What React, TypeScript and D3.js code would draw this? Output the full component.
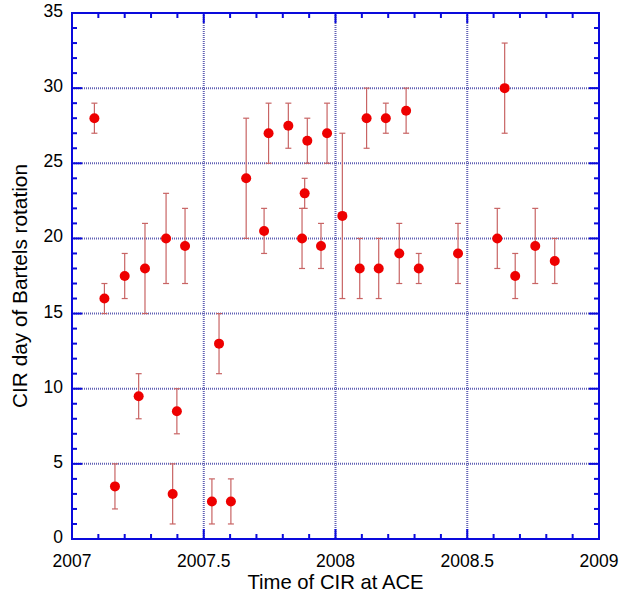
import React from "react";
import * as d3 from "d3";

// CIR arrival time (fractional year) and day within Bartels rotation
const years = [
  2007.085, 2007.123, 2007.163, 2007.2, 2007.253, 2007.277, 2007.357, 2007.382,
  2007.398, 2007.429, 2007.531, 2007.558, 2007.603, 2007.661, 2007.729, 2007.746,
  2007.821, 2007.873, 2007.883, 2007.893, 2007.945, 2007.968, 2008.026, 2008.092,
  2008.118, 2008.164, 2008.191, 2008.242, 2008.268, 2008.316, 2008.465, 2008.614,
  2008.642, 2008.682, 2008.758, 2008.832,
];
const days = [
  28, 16, 3.5, 17.5, 9.5, 18, 20, 3, 8.5, 19.5, 2.5, 13, 2.5, 24, 20.5, 27, 27.5,
  20, 23, 26.5, 19.5, 27, 21.5, 18, 28, 18, 28, 19, 28.5, 18, 19, 20, 30, 17.5,
  19.5, 18.5,
];
const errLow = [
  27, 15, 2, 16, 8, 15, 17, 1, 7, 17, 1, 11, 1, 20, 19, 25, 26, 18, 22, 25, 18,
  25, 16, 16, 26, 16, 27, 17, 27, 17, 17, 18, 27, 16, 17, 17,
];
const errHigh = [
  29, 17, 5, 19, 11, 21, 23, 5, 10, 22, 4, 15, 4, 28, 22, 29, 29, 22, 24, 28, 21,
  29, 27, 20, 30, 20, 29, 21, 30, 19, 21, 22, 33, 19, 22, 20,
];

const xTicks = [2007, 2007.5, 2008, 2008.5, 2009];
const yTicks = [0, 5, 10, 15, 20, 25, 30, 35];

const W = 619;
const H = 594;
const left = 72, right = 599, top = 13, bottom = 539;
const axisColor = "#0a0adc";
const gridColor = "#4646a8";
const font = "'Liberation Sans', Arial, Helvetica, sans-serif";

export default function App() {
  const x = d3.scaleLinear().domain([2007, 2009]).range([left, right]);
  const y = d3.scaleLinear().domain([0, 35]).range([bottom, top]);

  const xMinor = d3.range(2007, 2009.001, 0.1).map((v) => +v.toFixed(1));
  const yMinor = d3.range(0, 36, 1);

  const pts = years.map((yr, i) => ({
    yr,
    d: days[i],
    lo: errLow[i],
    hi: errHigh[i],
  }));

  return (
    <svg
      width={W}
      height={H}
      style={{ position: "absolute", left: 0, top: 0, background: "#fff" }}
    >
      {/* grid */}
      <g stroke={gridColor} strokeWidth={2} strokeDasharray="1,1" opacity={0.85}>
        {yTicks.slice(1, -1).map((t) => (
          <line key={"gy" + t} x1={left} x2={right} y1={y(t)} y2={y(t)} />
        ))}
        {xTicks.slice(1, -1).map((t) => (
          <line key={"gx" + t} x1={x(t)} x2={x(t)} y1={top} y2={bottom} />
        ))}
      </g>

      {/* minor + major ticks, inward on all four sides */}
      <g stroke={axisColor} strokeWidth={2}>
        {xMinor.map((t) => {
          const major = Math.abs(t * 2 - Math.round(t * 2)) < 1e-6;
          const len = major ? 10 : 5;
          return (
            <g key={"xt" + t}>
              <line x1={x(t)} x2={x(t)} y1={bottom} y2={bottom - len} />
              <line x1={x(t)} x2={x(t)} y1={top} y2={top + len} />
            </g>
          );
        })}
        {yMinor.map((t) => {
          const len = t % 5 === 0 ? 10 : 5;
          return (
            <g key={"yt" + t}>
              <line x1={left} x2={left + len} y1={y(t)} y2={y(t)} />
              <line x1={right} x2={right - len} y1={y(t)} y2={y(t)} />
            </g>
          );
        })}
        <rect
          x={left}
          y={top}
          width={right - left}
          height={bottom - top}
          fill="none"
        />
      </g>

      {/* error bars */}
      <g stroke="#c86464" strokeWidth={1.2}>
        {pts.map((p, i) => (
          <g key={"e" + i}>
            <line x1={x(p.yr)} x2={x(p.yr)} y1={y(p.lo)} y2={y(p.hi)} />
            <line x1={x(p.yr) - 3} x2={x(p.yr) + 3} y1={y(p.lo)} y2={y(p.lo)} />
            <line x1={x(p.yr) - 3} x2={x(p.yr) + 3} y1={y(p.hi)} y2={y(p.hi)} />
          </g>
        ))}
      </g>

      {/* points */}
      <g fill="#ee0000">
        {pts.map((p, i) => (
          <circle key={"p" + i} cx={x(p.yr)} cy={y(p.d)} r={5} />
        ))}
      </g>

      {/* tick labels */}
      <g fontFamily={font} fontSize={17.5} fill="#000">
        {xTicks.map((t) => (
          <text key={"xl" + t} x={x(t)} y={567} textAnchor="middle">
            {t}
          </text>
        ))}
        {yTicks.map((t) => (
          <text key={"yl" + t} x={63} y={y(t) + 4} textAnchor="end">
            {t}
          </text>
        ))}
      </g>

      {/* axis titles */}
      <text
        x={(left + right) / 2}
        y={589}
        textAnchor="middle"
        fontFamily={font}
        fontSize={20.3}
      >
        Time of CIR at ACE
      </text>
      <text
        transform={`translate(27, 286) rotate(-90)`}
        textAnchor="middle"
        fontFamily={font}
        fontSize={20.8}
      >
        CIR day of Bartels rotation
      </text>
    </svg>
  );
}
